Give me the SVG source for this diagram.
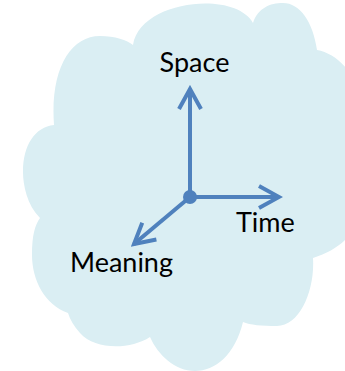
<svg xmlns="http://www.w3.org/2000/svg" width="345" height="371" viewBox="0 0 345 371">
<style>
.lbl{font-family:Lato,"Open Sans","DejaVu Sans",sans-serif;font-size:27px;fill:#000}
.ax{stroke:#4F81BD;stroke-width:4;fill:none}
</style>
<defs>
<marker id="ah" markerUnits="userSpaceOnUse" viewBox="-24 -14 28 28" markerWidth="28" markerHeight="28" refX="0" refY="0" orient="auto">
<path d="M-20,-11 L0,0 L-20,11" stroke="#4F81BD" stroke-width="4" fill="none" stroke-linejoin="miter"/>
</marker>
</defs>
<g id="cloud">
<path fill="#DAEEF3" d="M54,125 C50,70 70,36 100,36 C115,36 127,40 133,45 C140,0 235,-10 253,23 C258,8 270,3 283,3 C300,3 313,22 317,50 C345,55 370,90 370,150 C370,215 355,245 313,258 C315,290 300,326 277,326 C262,326 250,325 243,322 C235,355 215,371 195,371 C175,371 158,355 150,337 C130,350 95,350 80,333 C74,326 70,320 68,313 C45,305 32,280 32,255 C32,235 35,225 40,218 C27,205 23,185 23,172 C23,145 35,127 54,125 Z"/>
</g>
<g id="connectors">
<line class="ax" x1="190" y1="197" x2="190" y2="89" marker-end="url(#ah)"/>
<line class="ax" x1="190" y1="197" x2="279" y2="197" marker-end="url(#ah)"/>
<line class="ax" x1="190" y1="197" x2="134" y2="244" marker-end="url(#ah)"/>
<circle cx="190" cy="197" r="7" fill="#4F81BD"/>
</g>
<g id="space"><text class="lbl" x="194.5" y="72" text-anchor="middle">Space</text></g>
<g id="time"><text class="lbl" x="236" y="232">Time</text></g>
<g id="meaning"><text class="lbl" x="70" y="272">Meaning</text></g>
</svg>
